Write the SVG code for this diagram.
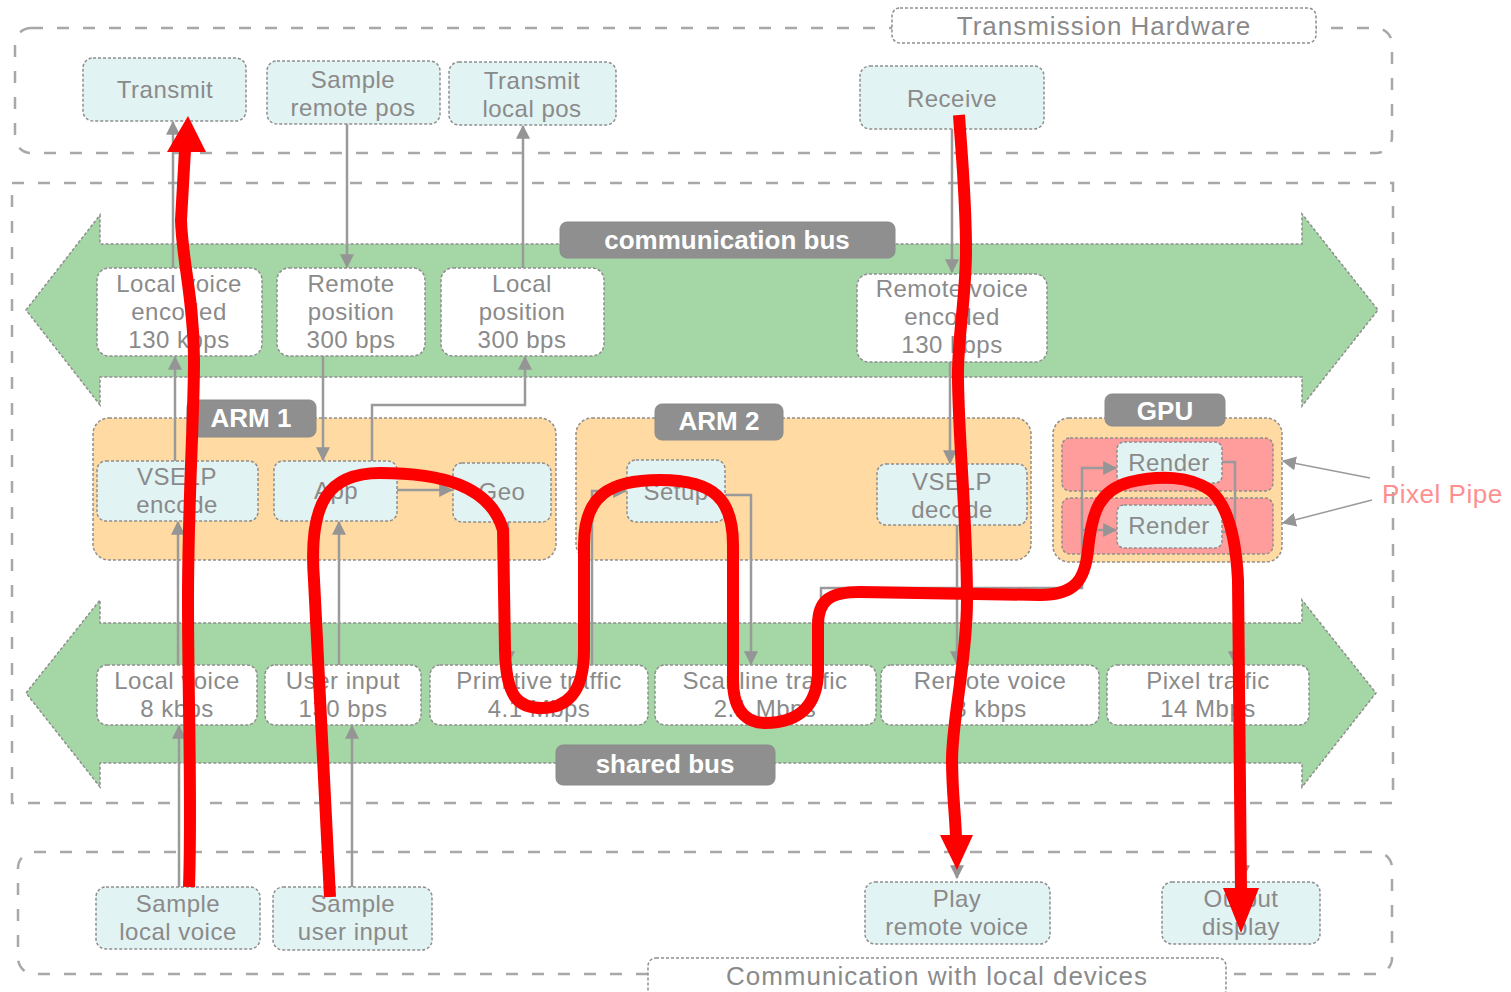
<svg xmlns="http://www.w3.org/2000/svg" width="1511" height="992" viewBox="0 0 1511 992">
<defs>
<style>
.frame{fill:none;stroke:#a8a8a8;stroke-width:2.5;stroke-dasharray:12 14}
.bus{fill:#a5d6a5;stroke:#8e8e8e;stroke-width:1.5;stroke-dasharray:3 2}
.proc{fill:#e2f3f3;stroke:#8e8e8e;stroke-width:1.5;stroke-dasharray:3 2}
.data{fill:#ffffff;stroke:#8e8e8e;stroke-width:1.5;stroke-dasharray:3 2}
.cont{fill:#ffdaa3;stroke:#8e8e8e;stroke-width:1.5;stroke-dasharray:3 2}
.pipe{fill:#ff9c9c;stroke:#8e8e8e;stroke-width:1.5;stroke-dasharray:3 2}
.tag{fill:#8f8f8f;stroke:#8a8a8a;stroke-width:1}
.lbl{fill:#ffffff;stroke:#8e8e8e;stroke-width:1.5;stroke-dasharray:3 2}
.t{font-family:"Liberation Sans",Arial,sans-serif;font-size:24px;letter-spacing:0.5px;fill:#8a8a8a;text-anchor:middle}
.tb{font-family:"Liberation Sans",Arial,sans-serif;font-size:26px;font-weight:bold;fill:#ffffff;text-anchor:middle}
.tt{font-family:"Liberation Sans",Arial,sans-serif;font-size:26px;letter-spacing:1px;fill:#8a8a8a;text-anchor:middle}
.conn{fill:none;stroke:#9a9a9a;stroke-width:2.5}
.thin{fill:none;stroke:#9a9a9a;stroke-width:1.5}
.red{fill:none;stroke:#ff0000;stroke-width:12;stroke-linejoin:round}
.redh{fill:#ff0000}
</style>
<marker id="ah" viewBox="0 0 12 12" refX="11" refY="6" markerWidth="14" markerHeight="14" markerUnits="userSpaceOnUse" orient="auto"><path d="M0,0 L12,6 L0,12 z" fill="#959595"/></marker>
</defs>
<rect width="1511" height="992" fill="#ffffff"/>

<g id="frames">
<rect class="frame" x="15" y="28" width="1377" height="125" rx="16"/>
<rect class="frame" x="12" y="183" width="1381" height="620"/>
<rect class="frame" x="18" y="852" width="1374" height="122" rx="16"/>
</g>
<g id="label-transmission">
<rect class="lbl" x="892" y="8" width="424" height="35" rx="8"/>
<text class="tt" x="1104" y="35">Transmission Hardware</text>
</g>
<g id="label-local-devices">
<rect class="lbl" x="648" y="958" width="578" height="40" rx="8"/>
<text class="tt" x="937" y="985">Communication with local devices</text>
</g>

<g id="communication-bus">
<polygon class="bus" points="26,310 100,215 100,244 1302,244 1302,214 1378,310 1302,406 1302,377 100,377 100,405"/>
<rect class="tag" x="560" y="222" width="335" height="36" rx="7"/>
<text class="tb" x="727" y="249">communication bus</text>
</g>
<g id="shared-bus">
<polygon class="bus" points="26,693 100,600 100,623 1302,623 1302,600 1376,693 1302,787 1302,763 100,763 100,787"/>
<rect class="tag" x="556" y="745" width="219" height="40" rx="7"/>
<text class="tb" x="665" y="773">shared bus</text>
</g>

<g id="arm1">
<rect class="cont" x="93" y="418" width="463" height="142" rx="16"/>
<rect class="tag" x="187" y="400" width="129" height="37" rx="7"/>
<text class="tb" x="251" y="427">ARM 1</text>
</g>
<g id="arm2">
<rect class="cont" x="576" y="418" width="455" height="142" rx="16"/>
<rect class="tag" x="655" y="404" width="128" height="36" rx="7"/>
<text class="tb" x="719" y="430">ARM 2</text>
</g>
<g id="gpu">
<rect class="cont" x="1053" y="418" width="229" height="144" rx="16"/>
<rect class="tag" x="1105" y="394" width="120" height="32" rx="7"/>
<text class="tb" x="1165" y="420">GPU</text>
<rect class="pipe" x="1062" y="438" width="211" height="53" rx="8"/>
<rect class="pipe" x="1062" y="498" width="211" height="56" rx="8"/>
</g>

<g id="transmit"><rect class="proc" x="83" y="58" width="163" height="63" rx="10"/><text class="t" x="165" y="98">Transmit</text></g>
<g id="sample-remote-pos"><rect class="proc" x="267" y="61" width="173" height="63" rx="10"/><text class="t" x="353" y="88">Sample</text><text class="t" x="353" y="116">remote pos</text></g>
<g id="transmit-local-pos"><rect class="proc" x="449" y="62" width="167" height="63" rx="10"/><text class="t" x="532" y="89">Transmit</text><text class="t" x="532" y="117">local pos</text></g>
<g id="receive"><rect class="proc" x="860" y="66" width="184" height="63" rx="10"/><text class="t" x="952" y="107">Receive</text></g>

<g id="local-voice-encoded"><rect class="data" x="97" y="268" width="165" height="88" rx="12"/><text class="t" x="179" y="292">Local voice</text><text class="t" x="179" y="320">encoded</text><text class="t" x="179" y="348">130 kbps</text></g>
<g id="remote-position"><rect class="data" x="277" y="268" width="148" height="88" rx="12"/><text class="t" x="351" y="292">Remote</text><text class="t" x="351" y="320">position</text><text class="t" x="351" y="348">300 bps</text></g>
<g id="local-position"><rect class="data" x="441" y="268" width="163" height="88" rx="12"/><text class="t" x="522" y="292">Local</text><text class="t" x="522" y="320">position</text><text class="t" x="522" y="348">300 bps</text></g>
<g id="remote-voice-encoded"><rect class="data" x="857" y="274" width="190" height="88" rx="12"/><text class="t" x="952" y="297">Remote voice</text><text class="t" x="952" y="325">encoded</text><text class="t" x="952" y="353">130 kbps</text></g>

<g id="vselp-encode"><rect class="proc" x="97" y="461" width="161" height="60" rx="9"/><text class="t" x="177" y="485">VSELP</text><text class="t" x="177" y="513">encode</text></g>
<g id="app"><rect class="proc" x="274" y="461" width="123" height="60" rx="9"/><text class="t" x="336" y="499">App</text></g>
<g id="geo"><rect class="proc" x="453" y="463" width="98" height="59" rx="9"/><text class="t" x="502" y="500">Geo</text></g>
<g id="setup"><rect class="proc" x="627" y="460" width="98" height="62" rx="9"/><text class="t" x="676" y="500">Setup</text></g>
<g id="vselp-decode"><rect class="proc" x="877" y="464" width="150" height="61" rx="9"/><text class="t" x="952" y="490">VSELP</text><text class="t" x="952" y="518">decode</text></g>
<g id="render-1"><rect class="proc" x="1117" y="442" width="105" height="41" rx="7"/><text class="t" x="1169" y="471">Render</text></g>
<g id="render-2"><rect class="proc" x="1117" y="505" width="105" height="43" rx="7"/><text class="t" x="1169" y="534">Render</text></g>

<g id="local-voice-8"><rect class="data" x="97" y="665" width="160" height="60" rx="10"/><text class="t" x="177" y="689">Local voice</text><text class="t" x="177" y="717">8 kbps</text></g>
<g id="user-input"><rect class="data" x="265" y="665" width="156" height="60" rx="10"/><text class="t" x="343" y="689">User input</text><text class="t" x="343" y="717">130 bps</text></g>
<g id="primitive-traffic"><rect class="data" x="430" y="665" width="218" height="60" rx="10"/><text class="t" x="539" y="689">Primitive traffic</text><text class="t" x="539" y="717">4.1 Mbps</text></g>
<g id="scanline-traffic"><rect class="data" x="655" y="665" width="221" height="60" rx="10"/><text class="t" x="765" y="689">Scanline traffic</text><text class="t" x="765" y="717">2.1 Mbps</text></g>
<g id="remote-voice-8"><rect class="data" x="881" y="665" width="218" height="60" rx="10"/><text class="t" x="990" y="689">Remote voice</text><text class="t" x="990" y="717">8 kbps</text></g>
<g id="pixel-traffic"><rect class="data" x="1107" y="665" width="202" height="60" rx="10"/><text class="t" x="1208" y="689">Pixel traffic</text><text class="t" x="1208" y="717">14 Mbps</text></g>

<g id="sample-local-voice"><rect class="proc" x="96" y="887" width="164" height="62" rx="10"/><text class="t" x="178" y="912">Sample</text><text class="t" x="178" y="940">local voice</text></g>
<g id="sample-user-input"><rect class="proc" x="273" y="887" width="159" height="63" rx="10"/><text class="t" x="353" y="912">Sample</text><text class="t" x="353" y="940">user input</text></g>
<g id="play-remote-voice"><rect class="proc" x="865" y="882" width="185" height="62" rx="10"/><text class="t" x="957" y="907">Play</text><text class="t" x="957" y="935">remote voice</text></g>
<g id="output-display"><rect class="proc" x="1162" y="882" width="158" height="62" rx="10"/><text class="t" x="1241" y="907">Output</text><text class="t" x="1241" y="935">display</text></g>

<g id="pixel-pipe">
<text x="1382" y="503" font-family="Liberation Sans, Arial, sans-serif" font-size="26" letter-spacing="0.5" fill="#ff8f8f">Pixel Pipe</text>
</g>

<g id="connectors">
<path class="conn" marker-end="url(#ah)" d="M173,268 L173,122"/>
<path class="conn" marker-end="url(#ah)" d="M175,461 L175,357"/>
<path class="conn" marker-end="url(#ah)" d="M178,665 L178,522"/>
<path class="conn" marker-end="url(#ah)" d="M179,887 L179,726"/>
<path class="conn" marker-end="url(#ah)" d="M347,124 L347,267"/>
<path class="conn" marker-end="url(#ah)" d="M323,356 L323,460"/>
<path class="conn" marker-end="url(#ah)" d="M372,461 L372,405 L525,405 L525,357"/>
<path class="conn" marker-end="url(#ah)" d="M523,268 L523,126"/>
<path class="conn" marker-end="url(#ah)" d="M397,490 L452,490"/>
<path class="conn" marker-end="url(#ah)" d="M339,665 L339,522"/>
<path class="conn" marker-end="url(#ah)" d="M352,887 L352,726"/>
<path class="conn" marker-end="url(#ah)" d="M508,522 L508,664"/>
<path class="conn" marker-end="url(#ah)" d="M592,665 L592,491 L626,491"/>
<path class="conn" marker-end="url(#ah)" d="M725,495 L751,495 L751,664"/>
<path class="conn" marker-end="url(#ah)" d="M821,665 L821,588 L1082,588 L1082,468 L1116,468"/>
<path class="conn" marker-end="url(#ah)" d="M1082,530 L1116,530"/>
<path class="conn" d="M1222,532 L1235,532"/>
<path class="conn" marker-end="url(#ah)" d="M1222,462 L1235,462 L1235,664"/>
<path class="conn" marker-end="url(#ah)" d="M1243,725 L1243,878"/>
<path class="conn" marker-end="url(#ah)" d="M952,129 L952,272"/>
<path class="conn" marker-end="url(#ah)" d="M950,362 L950,463"/>
<path class="conn" marker-end="url(#ah)" d="M957,525 L957,664"/>
<path class="conn" marker-end="url(#ah)" d="M957,725 L957,878"/>
<path class="thin" marker-end="url(#ah)" d="M1370,478 L1283,461"/>
<path class="thin" marker-end="url(#ah)" d="M1372,500 L1283,523"/>
</g>

<g id="red-flows">
<path class="red" d="M189,887 C192,800 188,700 188,600 C188,500 194,420 194,360 C194,300 182,260 181,220 L185,150"/>
<polygon class="redh" points="167,152 188,116 206,152"/>
<path class="red" d="M330,897 L314,580 C308,500 330,473 380,473 C440,473 490,485 503,530 L505,650 C506,700 520,708 542,708 C565,708 584,695 584,650 L584,545 C584,495 610,480 660,480 C715,480 733,500 733,545 L733,680 C733,715 750,723 765,723 C800,723 818,705 818,670 L818,625 C818,600 830,592 860,592 L1040,595 C1075,595 1085,580 1088,550 C1092,510 1100,490 1130,482 C1160,475 1190,476 1210,490 C1228,505 1236,540 1238,580 L1241,890"/>
<polygon class="redh" points="1223,888 1259,888 1241,933"/>
<path class="red" d="M959,115 C962,160 966,200 966,250 C966,300 957,340 958,380 C959,450 967,520 967,600 C967,660 952,720 952,760 C952,790 955,810 956,837"/>
<polygon class="redh" points="940,835 973,835 957,870"/>
</g>
</svg>
